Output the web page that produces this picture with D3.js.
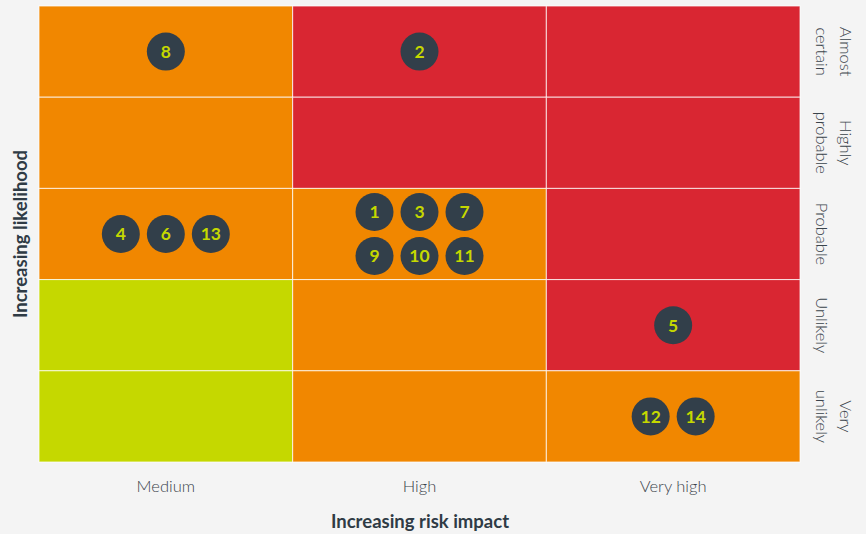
<!DOCTYPE html>
<html>
<head>
<meta charset="utf-8">
<script src="https://cdnjs.cloudflare.com/ajax/libs/d3/7.8.5/d3.min.js"></script>
<style>
  body { margin: 0; background: #f4f4f4; }
  svg { display: block; font-family: Lato, "Open Sans", sans-serif; }
</style>
</head>
<body>
<div id="chart"></div>
<script>
// categories
var impacts = ["Medium", "High", "Very high"];
var likelihoods = ["Almost certain", "Highly probable", "Probable", "Unlikely", "Very unlikely"];
// rating per cell, rows = likelihoods (top to bottom), cols = impacts
var ratings = [
  ["amber", "red", "red"],
  ["amber", "red", "red"],
  ["amber", "amber", "red"],
  ["green", "amber", "red"],
  ["green", "amber", "amber"]
];
// risks: id, impact, likelihood
var riskIds = [8, 2, 4, 6, 13, 1, 3, 7, 9, 10, 11, 5, 12, 14];
var riskImpact = ["Medium", "High", "Medium", "Medium", "Medium", "High", "High", "High", "High", "High", "High", "Very high", "Very high", "Very high"];
var riskLikelihood = ["Almost certain", "Almost certain", "Probable", "Probable", "Probable", "Probable", "Probable", "Probable", "Probable", "Probable", "Probable", "Unlikely", "Very unlikely", "Very unlikely"];

var colors = { amber: "#f18700", red: "#d92632", green: "#c5d800" };

var w = 866, h = 534;
var gridLeft = 39, gridRight = 800, gridTop = 6, gridBottom = 462;

var svg = d3.select("#chart").append("svg")
  .attr("width", w)
  .attr("height", h);

svg.append("rect").attr("width", w).attr("height", h).attr("fill", "#f4f4f4");

var xScale = d3.scaleBand().domain(impacts).range([gridLeft, gridRight]);
var yScale = d3.scaleBand().domain(likelihoods).range([gridTop, gridBottom]);

// cells
var cells = [];
likelihoods.forEach(function(l, r) {
  impacts.forEach(function(im, c) {
    cells.push({ impact: im, likelihood: l, rating: ratings[r][c] });
  });
});

svg.selectAll("rect.cell")
  .data(cells)
  .enter()
  .append("rect")
  .attr("class", "cell")
  .attr("x", function(d) { return xScale(d.impact); })
  .attr("y", function(d) { return yScale(d.likelihood); })
  .attr("width", xScale.bandwidth())
  .attr("height", yScale.bandwidth())
  .attr("fill", function(d) { return colors[d.rating]; })
  .attr("stroke", "rgba(255,255,255,0.75)")
  .attr("stroke-width", 1);

// x labels
svg.selectAll("text.xlab")
  .data(impacts)
  .enter()
  .append("text")
  .attr("class", "xlab")
  .attr("x", function(d) { return xScale(d) + xScale.bandwidth() / 2; })
  .attr("y", 492)
  .attr("text-anchor", "middle")
  .attr("font-size", 16.5)
  .attr("font-weight", 300)
  .attr("fill", "#3a434b")
  .text(function(d) { return d; });

// y labels on the right, rotated clockwise; last line sits closest to the grid
var ylab = svg.selectAll("g.ylab")
  .data(likelihoods)
  .enter()
  .append("g")
  .attr("class", "ylab")
  .attr("transform", function(d) {
    return "translate(822," + (yScale(d) + yScale.bandwidth() / 2) + ") rotate(90)";
  });

ylab.each(function(d) {
  var words = d.split(" ");
  var g = d3.select(this);
  var lh = 24;
  words.forEach(function(wd, i) {
    g.append("text")
      .attr("x", 0)
      .attr("y", -(words.length - 1 - i) * lh)
      .attr("dy", "0.35em")
      .attr("text-anchor", "middle")
      .attr("font-size", 16.5)
      .attr("font-weight", 300)
      .attr("fill", "#3a434b")
      .text(wd);
  });
});

// axis titles
svg.append("text")
  .attr("x", 420)
  .attr("y", 528)
  .attr("text-anchor", "middle")
  .attr("font-size", 18.5)
  .attr("font-weight", 700)
  .attr("fill", "#2f3b45")
  .text("Increasing risk impact");

svg.append("text")
  .attr("transform", "translate(27," + ((gridTop + gridBottom) / 2) + ") rotate(-90)")
  .attr("text-anchor", "middle")
  .attr("font-size", 18.5)
  .attr("font-weight", 700)
  .attr("fill", "#2f3b45")
  .text("Increasing likelihood");

// risks, grouped by cell, up to 3 per row
var risks = riskIds.map(function(id, i) {
  return { id: id, impact: riskImpact[i], likelihood: riskLikelihood[i] };
});
var groups = d3.group(risks, function(d) { return d.impact + "|" + d.likelihood; });
var gap = 45;
groups.forEach(function(list) {
  var nRows = Math.ceil(list.length / 3);
  list.forEach(function(d, i) {
    var row = Math.floor(i / 3);
    var inRow = Math.min(3, list.length - row * 3);
    var col = i % 3;
    d.cx = xScale(d.impact) + xScale.bandwidth() / 2 + (col - (inRow - 1) / 2) * gap;
    d.cy = yScale(d.likelihood) + yScale.bandwidth() / 2 + (row - (nRows - 1) / 2) * 44;
  });
});

var marks = svg.selectAll("g.risk")
  .data(risks)
  .enter()
  .append("g")
  .attr("class", "risk")
  .attr("transform", function(d) { return "translate(" + d.cx + "," + d.cy + ")"; });

marks.append("circle")
  .attr("r", 19)
  .attr("fill", "#323f4a");

marks.append("text")
  .attr("text-anchor", "middle")
  .attr("dy", "0.36em")
  .attr("font-size", 17.5)
  .attr("font-weight", 700)
  .attr("fill", "#c5d800")
  .text(function(d) { return d.id; });
</script>
</body>
</html>
